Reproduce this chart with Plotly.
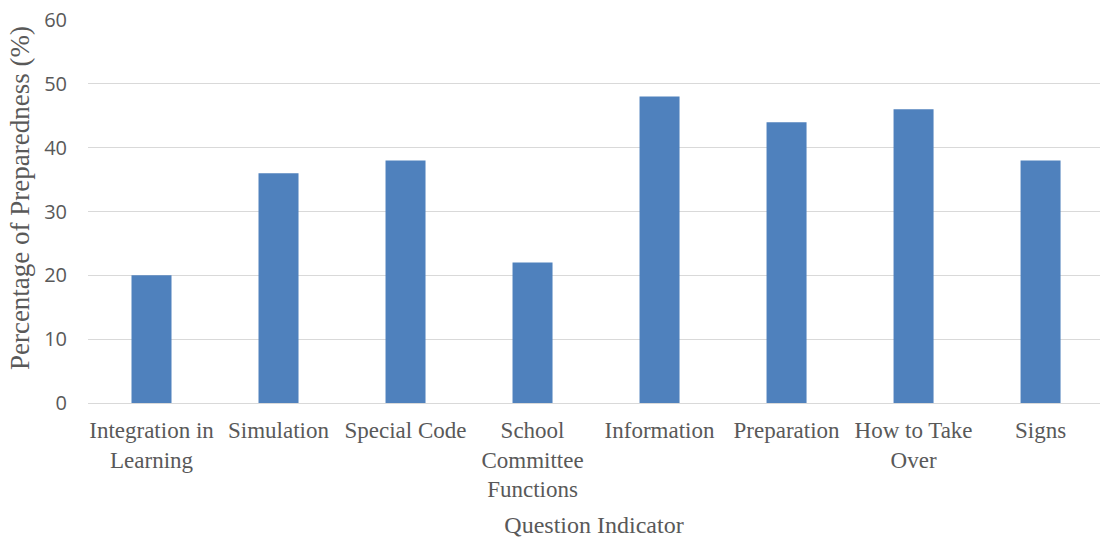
import plotly.graph_objects as go

categories = [
    "Integration in<br>Learning",
    "Simulation",
    "Special Code",
    "School<br>Committee<br>Functions",
    "Information",
    "Preparation",
    "How to Take<br>Over",
    "Signs",
]
preparedness = [20, 36, 38, 22, 48, 44, 46, 38]
y_ticks = [0, 10, 20, 30, 40, 50, 60]

serif = "Times New Roman, Liberation Serif, serif"
sans = "Open Sans, Liberation Sans, sans-serif"
text_grey = "#595959"

fig = go.Figure(
    go.Bar(
        x=categories,
        y=preparedness,
        marker=dict(color="#4F81BD", line=dict(width=0)),
        width=0.315,
    )
)

fig.update_layout(
    width=1100,
    height=541,
    margin=dict(l=88, r=0, t=20, b=138),
    paper_bgcolor="white",
    plot_bgcolor="white",
    showlegend=False,
    xaxis=dict(
        range=[-0.5, 7.468],
        tickfont=dict(family=serif, size=23, color=text_grey),
        title=dict(text="Question Indicator", font=dict(family=serif, size=24, color=text_grey), standoff=14),
        showline=True,
        linecolor="#D9D9D9",
        linewidth=1,
        ticks="",
        ticklabelstandoff=6,
    ),
    yaxis=dict(
        range=[0, 60],
        tickvals=y_ticks,
        tickfont=dict(family=sans, size=20, color=text_grey),
        showgrid=True,
        gridcolor="#D9D9D9",
        gridwidth=1,
        zeroline=False,
        ticklabelstandoff=20,
    ),
    annotations=[
        dict(
            text="Percentage of Preparedness (%)",
            xref="paper",
            yref="paper",
            x=-0.0672,
            y=0.535,
            xanchor="center",
            yanchor="middle",
            textangle=-90,
            showarrow=False,
            font=dict(family=serif, size=27, color=text_grey),
        )
    ],
)

fig.write_html("out.html")
